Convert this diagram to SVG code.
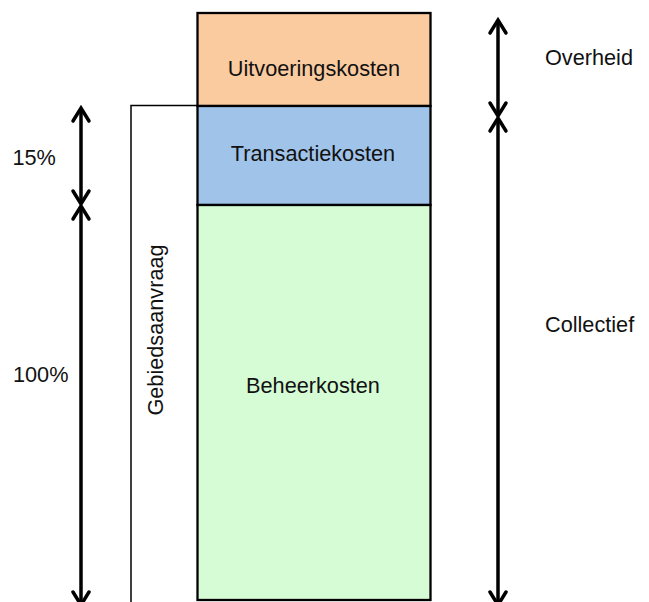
<svg xmlns="http://www.w3.org/2000/svg" width="649" height="602" viewBox="0 0 649 602">
  <style>
    .lbl { font-family: "Liberation Sans", Arial, Helvetica, sans-serif; font-size: 21.7px; fill: #111111; }
    .box { stroke: #000000; stroke-width: 2.3; }
    .arr { stroke: #000000; stroke-width: 3.5; fill: none; marker-start: url(#chev); marker-end: url(#chev); }
  </style>
  <defs>
    <marker id="chev" markerUnits="userSpaceOnUse" viewBox="-18 -12 22 24" refX="0" refY="0" markerWidth="22" markerHeight="24" orient="auto-start-reverse">
      <path d="M -13 -8 L 0 0 L -13 8" fill="none" stroke="#000000" stroke-width="3.5" stroke-linecap="round" stroke-linejoin="miter"/>
    </marker>
  </defs>
  <rect width="649" height="602" fill="#ffffff"/>

  <g id="gebiedsaanvraag">
    <path d="M 131 602 L 131 105.5 L 198 105.5" fill="none" stroke="#000000" stroke-width="1.5"/>
    <text class="lbl" transform="translate(163 330) rotate(-90)" text-anchor="middle">Gebiedsaanvraag</text>
  </g>

  <g id="uitvoeringskosten">
    <rect class="box" x="197.5" y="13" width="233" height="93" fill="#fbcba0"/>
    <text class="lbl" x="314" y="76" text-anchor="middle">Uitvoeringskosten</text>
  </g>
  <g id="transactiekosten">
    <rect class="box" x="197.5" y="106" width="233" height="99" fill="#a0c3e9"/>
    <text class="lbl" x="313" y="161" text-anchor="middle">Transactiekosten</text>
  </g>
  <g id="beheerkosten">
    <rect class="box" x="197.5" y="205" width="233" height="395" fill="#d5fcd4"/>
    <text class="lbl" x="313" y="393" text-anchor="middle">Beheerkosten</text>
  </g>

  <g id="connectors">
    <line class="arr" x1="81" y1="108" x2="81" y2="204"/>
    <line class="arr" x1="81" y1="206" x2="81" y2="605"/>
    <line class="arr" x1="498" y1="20" x2="498" y2="116"/>
    <line class="arr" x1="498" y1="118" x2="498" y2="605"/>
  </g>

  <g id="labels">
    <text class="lbl" x="12.5" y="165">15%</text>
    <text class="lbl" x="13" y="382">100%</text>
    <text class="lbl" x="545" y="65">Overheid</text>
    <text class="lbl" x="545" y="332">Collectief</text>
  </g>
</svg>
